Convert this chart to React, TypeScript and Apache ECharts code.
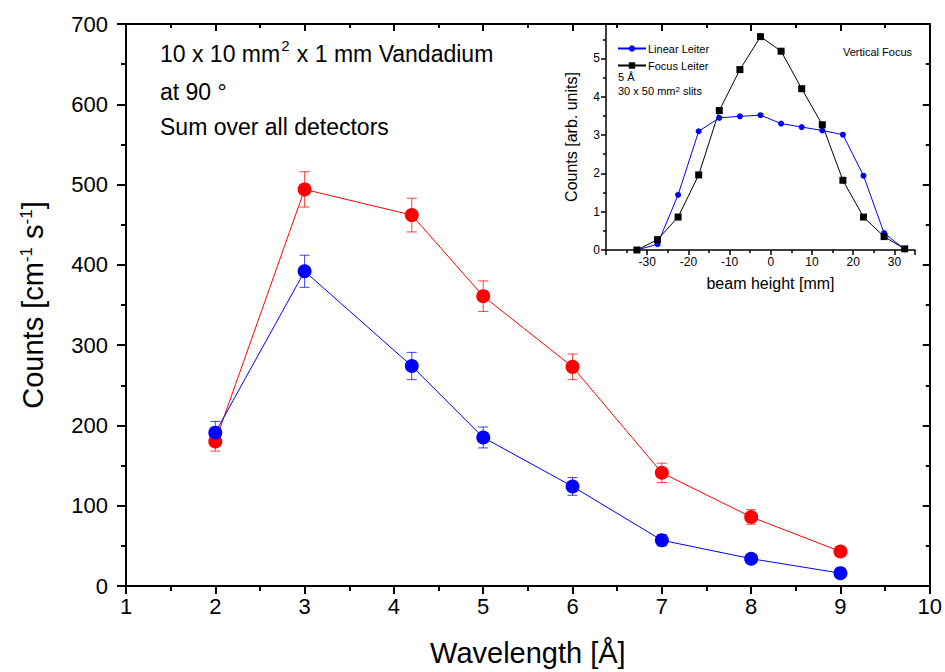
import React, { useEffect, useRef } from "react";
import * as echarts from "echarts";

// Main chart data
const wavelengths = [2, 3, 4.2, 5, 6, 7, 8, 9];
const redCounts = [180, 494, 462, 361, 273, 141, 86, 43];
const redErrors = [12, 22, 21, 19, 16, 12, 9, 6];
const blueCounts = [191, 392, 274, 185, 124, 57, 34, 16];
const blueErrors = [14, 20, 17, 13, 11, 7, 5, 4];

// Inset data
const beamHeights = [-32.5, -27.5, -22.5, -17.5, -12.5, -7.5, -2.5, 2.5, 7.5, 12.5, 17.5, 22.5, 27.5, 32.5];
const linearLeiter = [0.0, 0.15, 1.44, 3.1, 3.45, 3.49, 3.52, 3.3, 3.21, 3.12, 3.01, 1.94, 0.44, 0.02];
const focusLeiter = [0.0, 0.27, 0.86, 1.96, 3.64, 4.71, 5.57, 5.19, 4.21, 3.27, 1.82, 0.86, 0.35, 0.03];

const FONT = "'Liberation Sans', Arial, Helvetica, sans-serif";

function errorSeries(xs: number[], ys: number[], es: number[], color: string, xi: number, yi: number) {
  return {
    type: "custom",
    xAxisIndex: xi,
    yAxisIndex: yi,
    z: 1,
    silent: true,
    encode: { x: 0, y: [1, 2] },
    data: xs.map((x, i) => [x, ys[i] - es[i], ys[i] + es[i]]),
    renderItem: (params: any, api: any) => {
      const x = api.value(0);
      const lo = api.value(1);
      const hi = api.value(2);
      const top = api.coord([x, hi]);
      const bot = api.coord([x, lo]);
      const hw = 5;
      const st = { stroke: color, lineWidth: 1 };
      return {
        type: "group",
        children: [
          { type: "line", shape: { x1: top[0], y1: top[1], x2: bot[0], y2: bot[1] }, style: st },
          { type: "line", shape: { x1: top[0] - hw, y1: top[1], x2: top[0] + hw, y2: top[1] }, style: st },
          { type: "line", shape: { x1: bot[0] - hw, y1: bot[1], x2: bot[0] + hw, y2: bot[1] }, style: st },
        ],
      };
    },
  };
}

export default function App() {
  const ref = useRef<HTMLDivElement>(null);
  useEffect(() => {
    if (!ref.current) return;
    const chart = echarts.init(ref.current, null, { renderer: "svg" });
    const axisLine = { show: true, onZero: false, lineStyle: { color: "#000", width: 2 } };
    const mainTickX = { show: true, inside: false, length: 8, lineStyle: { color: "#000", width: 2 } };
    const mainMinor = { show: true, splitNumber: 2, length: 5, lineStyle: { color: "#000", width: 2 } };
    const mirrorTick = { show: true, inside: true, length: 7, lineStyle: { color: "#000", width: 2 } };
    const mirrorMinor = { show: true, splitNumber: 2, length: 4, lineStyle: { color: "#000", width: 2 } };
    const insetLine = { show: true, onZero: false, lineStyle: { color: "#000", width: 1.5 } };
    const insetTick = { show: true, inside: false, length: 5, lineStyle: { color: "#000", width: 1.5 } };
    const insetMinor = { show: true, splitNumber: 2, length: 3, lineStyle: { color: "#000", width: 1.5 } };

    const option: any = {
      animation: false,
      backgroundColor: "#fff",
      textStyle: { fontFamily: FONT },
      grid: [
        { left: 126, top: 24, right: 13, bottom: 85 },
        { left: 606, top: 24, width: 309, height: 226 },
      ],
      legend: {
        show: true,
        orient: "vertical",
        left: 612,
        top: 38,
        itemWidth: 28,
        itemHeight: 8,
        itemGap: 6,
        data: ["Linear Leiter", "Focus Leiter"],
        textStyle: { fontFamily: FONT, fontSize: 11, color: "#000", padding: [0, 0, 0, -3] },
      },
      xAxis: [
        {
          type: "value", gridIndex: 0, min: 1, max: 10, interval: 1,
          axisLine, axisTick: mainTickX, minorTick: mainMinor, splitLine: { show: false },
          axisLabel: { fontSize: 22, color: "#000", fontFamily: FONT, margin: 9 },
          name: "Wavelength [Å]", nameLocation: "middle", nameGap: 52,
          nameTextStyle: { fontSize: 29, color: "#000", fontFamily: FONT },
        },
        {
          type: "value", gridIndex: 0, min: 1, max: 10, interval: 1, position: "top",
          axisLine, axisTick: mirrorTick, minorTick: mirrorMinor, splitLine: { show: false },
          axisLabel: { show: false },
        },
        {
          type: "value", gridIndex: 1, min: -40, max: 35, interval: 10,
          axisLine: insetLine,
          axisTick: insetTick, minorTick: insetMinor, splitLine: { show: false },
          axisLabel: {
            fontSize: 12, color: "#000", fontFamily: FONT, margin: 6,
            formatter: (v: number) => (v % 10 === 0 && v > -40 && v <= 30 ? String(v) : ""),
          },
          name: "beam height [mm]", nameLocation: "middle", nameGap: 25,
          nameTextStyle: { fontSize: 16, color: "#000", fontFamily: FONT, padding: [0, 0, 0, 20] },
        },
      ],
      yAxis: [
        {
          type: "value", gridIndex: 0, min: 0, max: 700, interval: 100,
          axisLine, axisTick: { ...mainTickX, length: 9 }, minorTick: mainMinor, splitLine: { show: false },
          axisLabel: { fontSize: 22, color: "#000", fontFamily: FONT, margin: 18 },
          name: "Counts [cm{sup|-1} s{sup|-1}]", nameLocation: "middle", nameGap: 79, nameRotate: 90,
          nameTextStyle: {
            fontSize: 29, color: "#000", fontFamily: FONT,
            rich: { sup: { fontSize: 17, verticalAlign: "top", color: "#000", fontFamily: FONT, lineHeight: 12 } },
          },
        },
        {
          type: "value", gridIndex: 0, min: 0, max: 700, interval: 100, position: "right",
          axisLine, axisTick: mirrorTick, minorTick: mirrorMinor, splitLine: { show: false },
          axisLabel: { show: false },
        },
        {
          type: "value", gridIndex: 1, min: 0, max: 5.9, interval: 1,
          axisLine: insetLine,
          axisTick: insetTick, minorTick: insetMinor, splitLine: { show: false },
          axisLabel: {
            fontSize: 12, color: "#000", fontFamily: FONT, margin: 6,
            formatter: (v: number) => (Number.isInteger(v) ? String(v) : ""),
          },
          name: "Counts [arb. units]", nameLocation: "middle", nameGap: 27, nameRotate: 90,
          nameTextStyle: { fontSize: 16, color: "#000", fontFamily: FONT },
        },
      ],
      series: [
        errorSeries(wavelengths, redCounts, redErrors, "rgba(255,0,0,0.75)", 0, 0),
        errorSeries(wavelengths, blueCounts, blueErrors, "rgba(0,0,255,0.75)", 0, 0),
        {
          name: "red", type: "line", xAxisIndex: 0, yAxisIndex: 0, z: 3,
          data: wavelengths.map((x, i) => [x, redCounts[i]]),
          symbol: "circle", symbolSize: 14,
          itemStyle: { color: "#ff0000" }, lineStyle: { color: "#ff0000", width: 1 },
        },
        {
          name: "blue", type: "line", xAxisIndex: 0, yAxisIndex: 0, z: 3,
          data: wavelengths.map((x, i) => [x, blueCounts[i]]),
          symbol: "circle", symbolSize: 14,
          itemStyle: { color: "#0000ff" }, lineStyle: { color: "#0000ff", width: 1 },
        },
        {
          name: "Linear Leiter", type: "line", xAxisIndex: 2, yAxisIndex: 2, z: 4,
          data: beamHeights.map((x, i) => [x, linearLeiter[i]]),
          symbol: "circle", symbolSize: 6,
          itemStyle: { color: "#0000ff" }, lineStyle: { color: "#0000ff", width: 1 },
        },
        {
          name: "Focus Leiter", type: "line", xAxisIndex: 2, yAxisIndex: 2, z: 4,
          data: beamHeights.map((x, i) => [x, focusLeiter[i]]),
          symbol: "rect", symbolSize: 7,
          itemStyle: { color: "#000000" }, lineStyle: { color: "#000000", width: 1 },
        },
      ],
      graphic: [
        {
          type: "text", left: 160, top: 38,
          style: {
            text: "10 x 10 mm{sup|2} x 1 mm Vandadium",
            fontSize: 23, fontFamily: FONT, fill: "#000",
            rich: { sup: { fontSize: 15, verticalAlign: "bottom", fontFamily: FONT, fill: "#000", lineHeight: 15, padding: [0, 1, 12, 1] } },
          },
        },
        { type: "text", left: 160, top: 80, style: { text: "at 90 °", fontSize: 23, fontFamily: FONT, fill: "#000" } },
        { type: "text", left: 160, top: 115, style: { text: "Sum over all detectors", fontSize: 23, fontFamily: FONT, fill: "#000" } },
        { type: "text", right: 33, top: 46, style: { text: "Vertical Focus", fontSize: 11, fontFamily: FONT, fill: "#000" } },
        { type: "text", left: 618, top: 71, style: { text: "5 Å", fontSize: 11, fontFamily: FONT, fill: "#000" } },
        {
          type: "text", left: 618, top: 85,
          style: {
            text: "30 x 50 mm{sup|2} slits", fontSize: 11, fontFamily: FONT, fill: "#000",
            rich: { sup: { fontSize: 8, verticalAlign: "top", fontFamily: FONT, fill: "#000", lineHeight: 6 } },
          },
        },
      ],
    };
    chart.setOption(option);
    return () => chart.dispose();
  }, []);
  return (
    <div
      ref={ref}
      style={{ position: "fixed", left: 0, top: 0, width: 945, height: 672, background: "#fff" }}
    />
  );
}
